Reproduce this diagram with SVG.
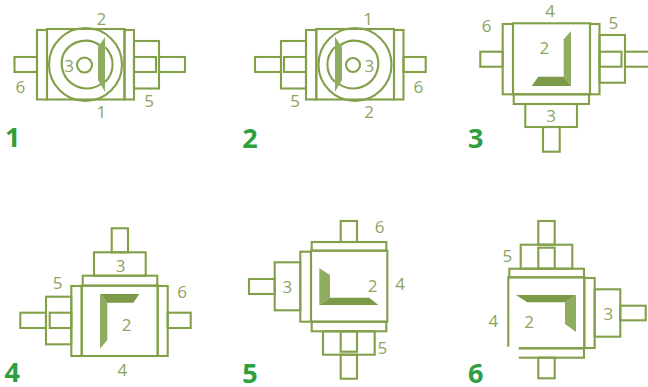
<svg xmlns="http://www.w3.org/2000/svg" width="648" height="387" viewBox="0 0 648 387">
<style>
rect,circle,path.l{fill:none;stroke:#82a04a;stroke-width:2.1}
.d{fill:#7d9a48}
.m{fill:#8fad60}
text{font-family:"Open Sans","Liberation Sans",sans-serif;text-anchor:middle;font-size:17px;fill:#8ca45e}
text.n{font-size:27px;font-weight:700;fill:#2e9e3f}
</style>
<rect x="0" y="0" width="648" height="387" style="fill:#fff;stroke:none"/>
<g id="panel-1">
<rect x="14.500" y="57" width="22.500" height="15"/><rect x="37" y="30" width="10" height="69.500"/><rect x="47" y="29" width="77.500" height="70.500"/><rect x="124.500" y="30" width="9.500" height="69.500"/><rect x="134" y="41" width="25" height="47.500"/><rect x="134" y="57" width="22" height="15"/><rect x="159" y="57" width="26" height="15"/>
<circle cx="85.500" cy="64.500" r="36.500"/><path class="l" d="M101 46A25 25 0 0 0 64 53 25 25 0 0 0 101 84M105 47A24 24 0 0 1 105 82"/><circle cx="84.500" cy="65" r="7.500"/>
<path class="m" d="M98 47L105 37V92L98 80Z"/>
<text x="69" y="71.700">3</text><text x="101.300" y="25.300">2</text><text x="101.300" y="118">1</text><text x="20.300" y="93.300">6</text><text x="149" y="107.300">5</text><text class="n" x="12.700" y="146.700">1</text>
</g>
<g id="panel-2">
<rect x="255" y="57" width="26" height="15"/><rect x="281" y="41" width="25" height="47.500"/><rect x="284" y="57" width="22" height="15"/><rect x="306" y="30" width="10.300" height="69.500"/><rect x="316.300" y="29" width="77.700" height="70.500"/><rect x="394" y="30" width="9.500" height="69.500"/><rect x="403.500" y="57" width="22.200" height="15"/>
<circle cx="355" cy="64.500" r="36.500"/><path class="l" d="M339 46A25 25 0 0 1 376 53 25 25 0 0 1 339 84M335 47A24 24 0 0 0 335 82"/><circle cx="353" cy="65" r="7"/>
<path class="m" d="M335 37L342 47V80L335 92Z"/>
<text x="369.300" y="71.700">3</text><text x="368" y="25">1</text><text x="369" y="118.300">2</text><text x="295" y="107.300">5</text><text x="418.300" y="93.300">6</text><text class="n" x="250" y="148">2</text>
</g>
<g id="panel-3">
<rect x="480.300" y="51.700" width="22.400" height="15"/><rect x="502.700" y="24" width="10.300" height="70.300"/><rect x="513" y="23.300" width="77" height="71"/><rect x="590" y="24" width="9.500" height="70.300"/><rect x="599.500" y="35" width="25.500" height="47.700"/><rect x="599.500" y="51.700" width="22" height="15"/><rect x="625" y="51.700" width="30" height="15"/><rect x="513.700" y="94.300" width="75.300" height="9.700"/><rect x="525.300" y="104" width="51.700" height="23"/><rect x="543" y="127" width="16.700" height="24.700"/>
<path class="m" d="M571 31V86L563.700 76.700V39.300Z"/><path class="d" d="M571 86H531.700L538.300 76.700H563.700Z"/>
<text x="544.300" y="54">2</text><text x="550" y="16.700">4</text><text x="486.700" y="31.700">6</text><text x="613.300" y="29">5</text><text x="551" y="122.300">3</text><text class="n" x="475.700" y="148.300">3</text>
</g>
<g id="panel-4">
<rect x="111.700" y="228.300" width="16.300" height="24"/><rect x="94" y="252.300" width="51.700" height="23.400"/><rect x="82.700" y="275.700" width="74.600" height="10"/><rect x="81.700" y="285.700" width="76" height="70.300"/><rect x="71.300" y="286" width="10.400" height="70"/><rect x="157.700" y="286" width="10" height="70"/><rect x="46" y="296.700" width="25.300" height="47.600"/><rect x="49.700" y="312.700" width="21.600" height="15.300"/><rect x="20.300" y="312.700" width="25.700" height="15.300"/><rect x="167.700" y="312.700" width="23" height="15.300"/>
<path class="m" d="M100 294L107.300 302.700V340L100 348.700Z"/><path class="d" d="M100 294H139.300L133.300 302.700H107.300Z"/>
<text x="120.700" y="271.700">3</text><text x="57.700" y="289.300">5</text><text x="182" y="298.300">6</text><text x="126.700" y="330.700">2</text><text x="122.300" y="376">4</text><text class="n" x="12.300" y="382.300">4</text>
</g>
<g id="panel-5">
<rect x="340.700" y="221" width="16.300" height="21"/><rect x="311.700" y="242" width="74.600" height="8.700"/><rect x="311" y="250.700" width="76.300" height="71"/><rect x="300.300" y="251.700" width="10.700" height="70"/><rect x="311.700" y="321.700" width="74.600" height="9.600"/><rect x="323" y="331.300" width="51.700" height="23.400"/><rect x="340.700" y="331.300" width="16.300" height="20.400"/><rect x="340.700" y="354.700" width="16.300" height="24"/><rect x="274.700" y="262.300" width="25.600" height="48"/><rect x="249" y="279" width="25.700" height="15"/>
<path class="m" d="M319.300 268.300L330 275V297.700L319.300 305Z"/><path class="d" d="M319.300 305H378.300L369.300 297.700H330Z"/>
<text x="379.700" y="233.300">6</text><text x="287.300" y="292.700">3</text><text x="372.700" y="291.700">2</text><text x="400" y="290">4</text><text x="382.300" y="354.300">5</text><text class="n" x="250" y="383.300">5</text>
</g>
<g id="panel-6">
<rect x="538.300" y="221" width="16.400" height="23.700"/><rect x="520.700" y="244.700" width="51.600" height="24"/><rect x="538.300" y="247.700" width="16.400" height="21"/><rect x="509.300" y="268.700" width="74.700" height="8.600"/><rect x="508.300" y="277.300" width="76" height="71"/><rect x="509.300" y="348.300" width="74.700" height="9.400"/><rect x="584.300" y="278" width="10.400" height="70"/><rect x="594.700" y="289.300" width="25.600" height="47.400"/><rect x="620.300" y="305.700" width="25.400" height="14.600"/><rect x="538.300" y="357.700" width="16.400" height="20.600"/>
<rect x="500" y="346.700" width="18.700" height="40.300" style="fill:#fff;stroke:none"/>
<path class="m" d="M576 295V332L565 324V302.300Z"/><path class="d" d="M516 295H576L565 302.300H527.300Z"/>
<text x="507.300" y="262.300">5</text><text x="493.300" y="326.700">4</text><text x="529" y="327.700">2</text><text x="608.300" y="320">3</text><text class="n" x="475.700" y="383.300">6</text>
</g>
</svg>
